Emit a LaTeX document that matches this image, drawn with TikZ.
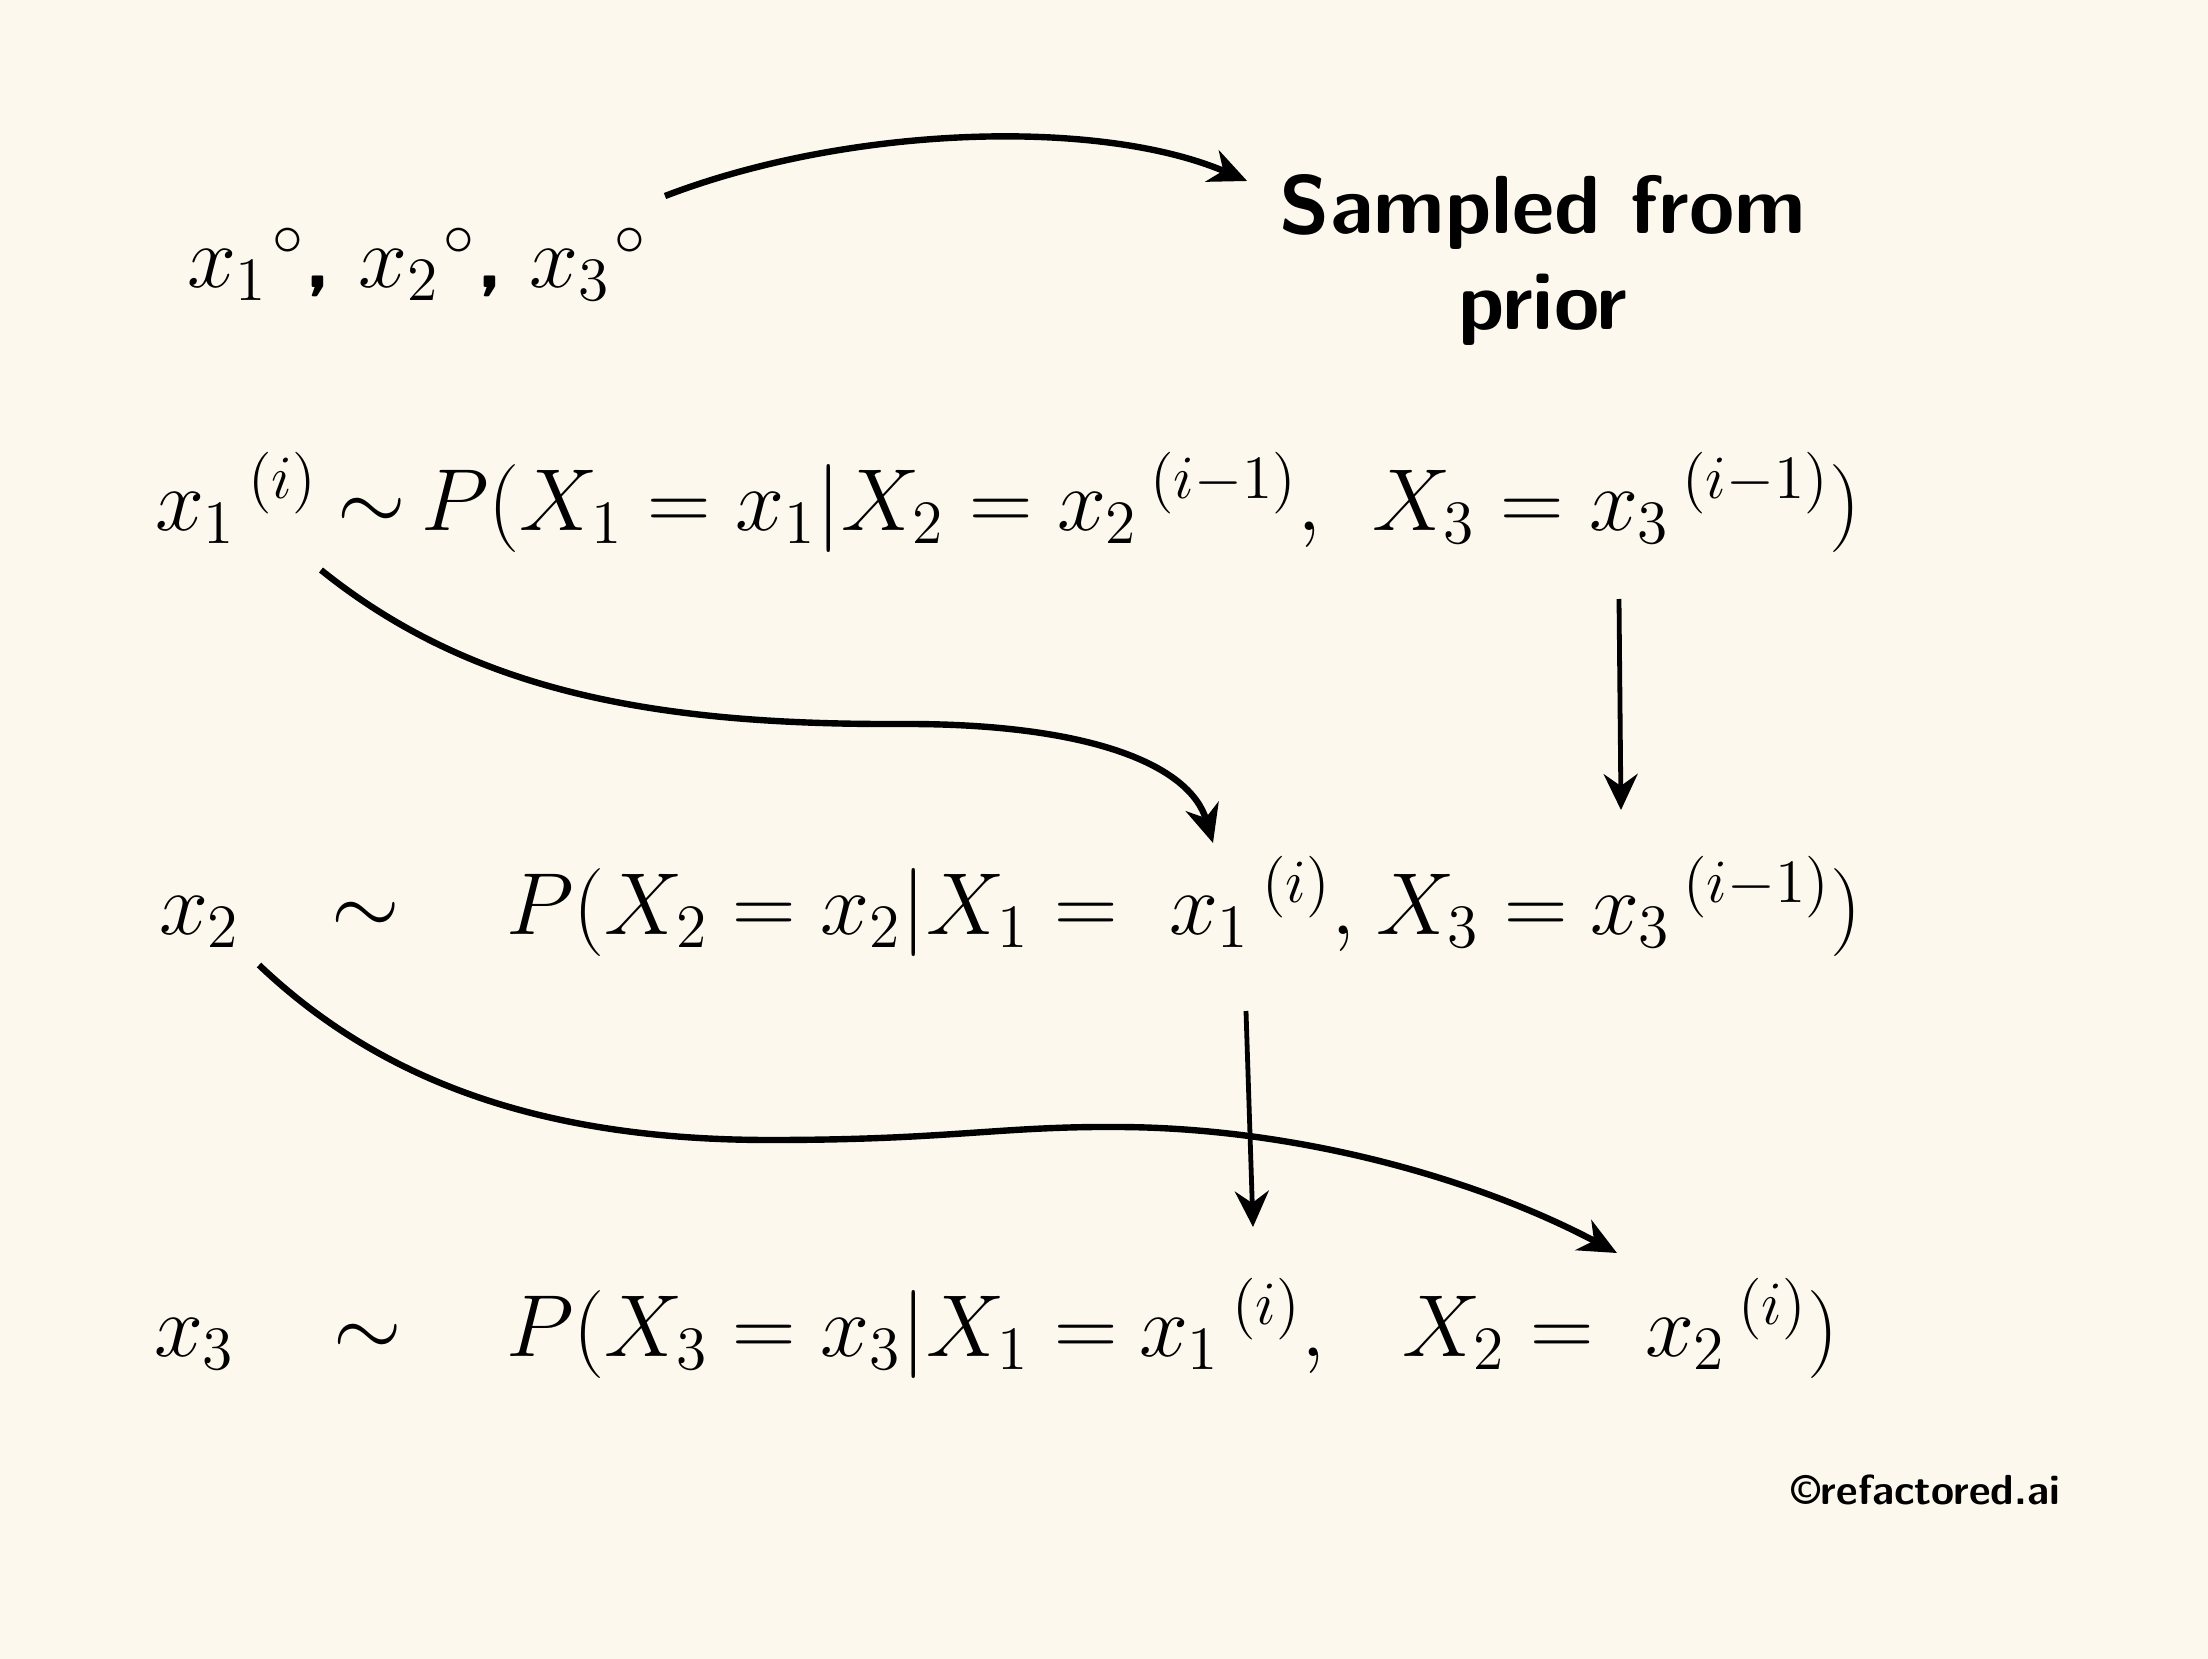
\RequirePackage{fix-cm}
\documentclass[tikz,border=0pt]{standalone}
\usetikzlibrary{arrows.meta,calc}
\definecolor{bgcream}{RGB}{253,248,237}
\begin{document}
\begin{tikzpicture}[x=0.25pt,y=-0.25pt,
  eq/.style={inner sep=0pt, outer sep=0pt, anchor=base west, font=\fontsize{22}{26}\selectfont},
  lbl/.style={inner sep=0pt, font=\fontsize{20.6}{24}\selectfont\sffamily\bfseries, align=center},
  arr/.style={line width=1.6pt, -{Stealth[length=9.5pt,width=8.5pt,inset=3pt]}},
  varr/.style={line width=1.2pt, -{Stealth[length=9pt,width=8.5pt,inset=3pt]}}]
\fill[bgcream] (0,0) rectangle (2208,1659);
\useasboundingbox (0,0) rectangle (2208,1659);
% row 0
\node[eq] (r0) at (187,287) {${x_1}^{\kern1pt\circ}$\textsf{\textbf{,}} ${x_2}^{\kern1pt\circ}$\textsf{\textbf{,}} ${x_3}^{\kern1pt\circ}$};
\node[lbl, anchor=north] (title) at (1543,174) {Sampled from\\prior};
% row 1
\node[eq] (r1x1) at (155,530) {${x_1}^{\kern3pt(i)}$};
\node[eq] (r1sim) at (337,530) {$\sim$};
\node[eq] (r1a) at (421,530) {$P(X_1 = x_1|X_2 = {}$};
\node[eq] (r1x2) at (1057,530) {${x_2}^{\kern3pt(i-1)},$};
\node[eq] (r1X3) at (1372,530) {$X_3 = {}$};
\node[eq] (r1x3) at (1589,530) {${x_3}^{\kern3pt(i-1)})$};
% row 2
\node[eq] (r2x2) at (159,934) {$x_2$};
\node[eq] (r2sim) at (331,934) {$\sim$};
\node[eq] (r2a) at (506,934) {$P(X_2 = x_2|X_1 = {}$};
\node[eq] (r2x1) at (1169,934) {${x_1}^{\kern3pt(i)},$};
\node[eq] (r2X3) at (1376,934) {$X_3 = {}$};
\node[eq] (r2x3) at (1590,934) {${x_3}^{\kern3pt(i-1)})$};
% row 3
\node[eq] (r3x3) at (154,1356) {$x_3$};
\node[eq] (r3sim) at (333,1356) {$\sim$};
\node[eq] (r3a) at (506,1356) {$P(X_3 = x_3|X_1 = {}$};
\node[eq] (r3x1) at (1139,1356) {${x_1}^{\kern3pt(i)},$};
\node[eq] (r3X2) at (1402,1356) {$X_2 = {}$};
\node[eq] (r3x2) at (1645,1356) {${x_2}^{\kern3pt(i)})$};
% watermark
\node[inner sep=0pt, anchor=base west, font=\fontsize{10.5}{12}\selectfont\sffamily\bfseries] (wm) at (1791,1504) {\textcopyright refactored.ai};
% arrows
\draw[arr] ($(r0.base west)+(478,-91)$) .. controls (850,125) and (1100,118) .. ($(title.north west)+(-32,7)$);
\draw[arr] ($(r1x1.base west)+(166,40)$) .. controls (470,690) and (650,725) .. (900,724) .. controls (1090,723) and (1190,765) .. ($(r2x1.base west)+(44,-91)$);
\draw[varr] ($(r1x3.base west)+(30,69)$) -- ($(r2x3.base west)+(31,-124)$);
\draw[arr] ($(r2x2.base west)+(100,31)$) .. controls (380,1080) and (540,1140) .. (770,1140) .. controls (950,1140) and (1000,1126) .. (1120,1127) .. controls (1300,1128) and (1480,1180) .. ($(r3x2.base west)+(-28,-103)$);
\draw[varr] ($(r2x1.base west)+(77,77)$) -- ($(r3x1.base west)+(114,-129)$);
\end{tikzpicture}
\end{document}
